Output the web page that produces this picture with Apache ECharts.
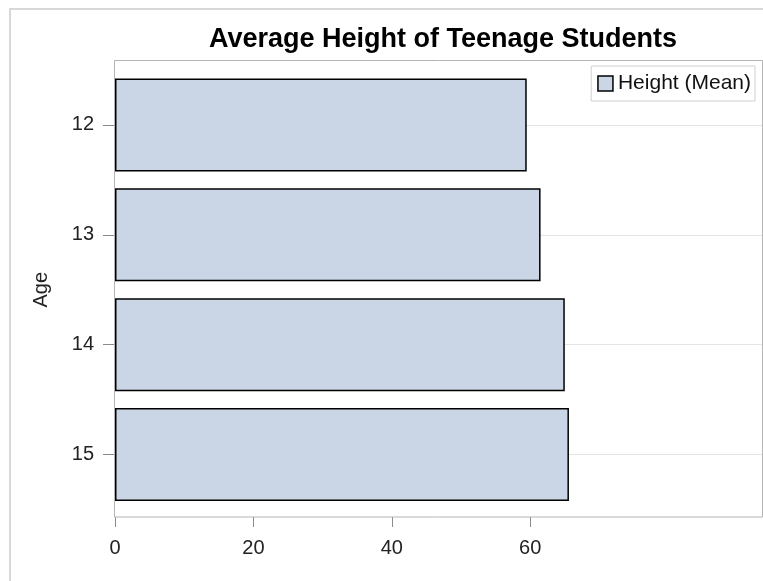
<!DOCTYPE html>
<html>
<head>
<meta charset="utf-8">
<script src="https://cdn.jsdelivr.net/npm/echarts@6/dist/echarts.min.js"></script>
<style>html,body{margin:0;padding:0;background:#fff;}#c{width:763px;height:581px;}</style>
</head>
<body>
<div id="c"></div>
<script>
const ages = ['12', '13', '14', '15'];
const heightMean = [59.5, 61.5, 65.0, 65.6];
const xTicks = [0, 20, 40, 60];
const titleText = 'Average Height of Teenage Students';
const legendName = 'Height (Mean)';

const chart = echarts.init(document.getElementById('c'), null, {renderer: 'canvas'});
const font = 'Liberation Sans, Arial, sans-serif';
chart.setOption({
  animation: false,
  backgroundColor: '#ffffff',
  title: {
    text: titleText,
    left: 438, textAlign: 'center', top: 21,
    textStyle: {fontFamily: font, fontWeight: 'bold', fontSize: 27, color: '#000'}
  },
  legend: {
    right: 8, top: 66,
    data: [legendName],
    icon: 'rect',
    itemWidth: 15, itemHeight: 15,
    itemGap: 6,
    padding: [7, 4, 7, 6],
    borderColor: '#d0d0d0', borderWidth: 1,
    textStyle: {fontFamily: font, fontSize: 21, color: '#111'},
    itemStyle: {borderColor: '#000', borderWidth: 1.5}
  },
  graphic: [
    {type: 'rect', silent: true, z: -10, shape: {x: 10, y: 9, width: 800, height: 620},
     style: {fill: 'none', stroke: '#d8d8d8', lineWidth: 2}},
    {type: 'rect', silent: true, z: 5, shape: {x: 114.5, y: 60.5, width: 648, height: 456.5},
     style: {fill: 'none', stroke: '#b4b4b4', lineWidth: 1}}
  ],
  grid: {left: 115, right: 1, top: 70, bottom: 71.5, containLabel: false},
  xAxis: {
    type: 'value', min: 0, max: 93.5,
    offset: 7.5,
    axisLine: {show: false},
    axisTick: {show: true, length: 10, customValues: xTicks, lineStyle: {color: '#8a8a8a'}},
    axisLabel: {customValues: xTicks, margin: 21, fontFamily: font, fontSize: 20, color: '#222'},
    splitLine: {show: false}
  },
  yAxis: {
    type: 'category', data: ages, inverse: true,
    name: 'Age', nameLocation: 'middle', nameGap: 64,
    nameTextStyle: {fontFamily: font, fontSize: 20, color: '#222'},
    axisLine: {show: false},
    axisTick: {show: true, alignWithLabel: true, length: 12, lineStyle: {color: '#8a8a8a'}},
    axisLabel: {margin: 21, fontFamily: font, fontSize: 20, color: '#222'},
    splitLine: {show: true, alignWithLabel: true, lineStyle: {color: '#e4e4e4', width: 1}}
  },
  series: [{
    name: legendName,
    type: 'bar',
    data: heightMean,
    barWidth: 93,
    itemStyle: {color: '#cad5e5', borderColor: '#000', borderWidth: 1.5}
  }]
});
</script>
</body>
</html>
